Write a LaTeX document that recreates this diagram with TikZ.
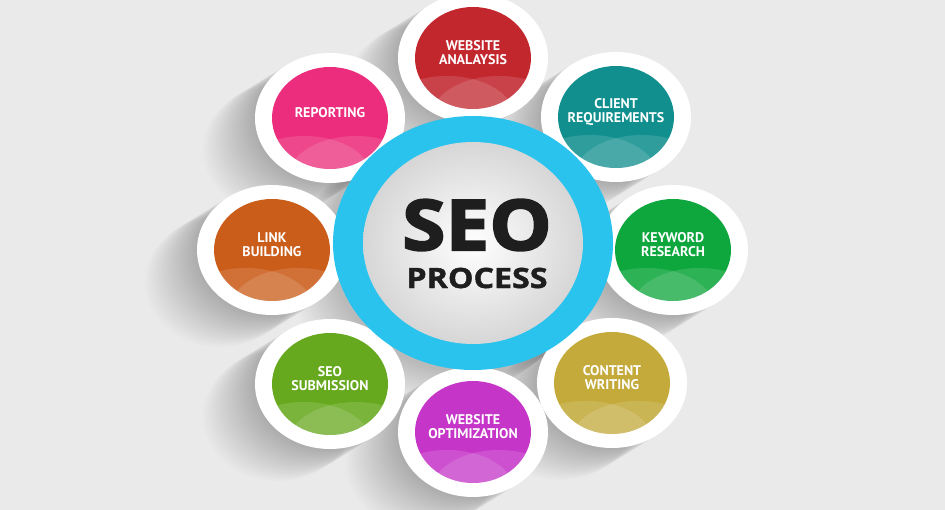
\documentclass[tikz,border=0pt]{standalone}
\usepackage{fontspec}
\setmainfont{Open Sans}
\newfontfamily\lblfont{PT Sans}
\newfontfamily\seofont{Open Sans}[FakeBold=2.8,FakeStretch=1.12]
\newfontfamily\procfont{Open Sans}[FakeBold=1.5,FakeStretch=1.15]
\usetikzlibrary{shapes.geometric}
\definecolor{bgc}{HTML}{EAEAEA}
\definecolor{ringblue}{HTML}{2AC3EE}
\definecolor{cRed}{HTML}{C2272E}
\definecolor{cPink}{HTML}{EC2C7C}
\definecolor{cTeal}{HTML}{108F8E}
\definecolor{cOrange}{HTML}{CB5D1A}
\definecolor{cGreen}{HTML}{0EA73E}
\definecolor{cLime}{HTML}{67A91E}
\definecolor{cMagenta}{HTML}{C536C8}
\definecolor{cOlive}{HTML}{C3AA3B}
\definecolor{seotext}{HTML}{1E1E1E}
\tikzset{
  sat/.style={ellipse, minimum width=116pt, minimum height=102pt, inner sep=0pt},
  lbl/.style={text=white, align=center, font=\lblfont\bfseries\fontsize{14}{14}\selectfont, inner sep=0pt},
  shad/.style={black, opacity=0.012},
}
\begin{document}
\begin{tikzpicture}[x=1pt,y=-1pt]
\useasboundingbox (0,0) rectangle (945,510);
\fill[bgc] (0,0) rectangle (945,510);

% positions
\coordinate (wa) at (473,58);
\coordinate (cr) at (616,117);
\coordinate (kr) at (673,250);
\coordinate (cw) at (612,383);
\coordinate (wo) at (473,432);
\coordinate (ss) at (330,384);
\coordinate (lb) at (272,250);
\coordinate (rp) at (330,118);
\coordinate (c) at (473,243);

% soft shadows of satellites (cast to lower left)
\foreach \n in {wa,cr,kr,cw,wo,ss,lb,rp}{
  \foreach \k in {1,...,20}{
    \fill[shad] ([shift={(-2.6*\k,1.6*\k)}]\n) ellipse [x radius=75pt, y radius=65pt];
  }
}
% shadow of central ring
\foreach \k in {1,...,16}{
  \fill[shad] ([shift={(-2.5*\k,1.8*\k)}]c) ellipse [x radius=142pt, y radius=129pt];
}

% satellites
\foreach \n/\col/\txt in {
  wa/cRed/{WEBSITE\\ANALAYSIS},
  cr/cTeal/{CLIENT\\REQUIREMENTS},
  kr/cGreen/{KEYWORD\\RESEARCH},
  cw/cOlive/{CONTENT\\WRITING},
  wo/cMagenta/{WEBSITE\\OPTIMIZATION},
  ss/cLime/{SEO\\SUBMISSION},
  lb/cOrange/{LINK\\BUILDING},
  rp/cPink/{REPORTING}}{
  \fill[white] (\n) ellipse [x radius=75pt, y radius=65pt];
  \node[sat, fill=\col] (\n-c) at (\n) {};
  \begin{scope}
    \clip (\n) ellipse [x radius=58pt, y radius=51pt];
    \fill[white, opacity=0.13] ([shift={(-26,60)}]\n) ellipse [x radius=68pt, y radius=42pt];
    \fill[white, opacity=0.13] ([shift={(26,60)}]\n) ellipse [x radius=68pt, y radius=42pt];
  \end{scope}
  \node[lbl] (\n-t) at ([shift={(0,-5)}]\n) {\txt};
}

% central ring
\fill[ringblue] (c) ellipse [x radius=140pt, y radius=127pt];
\shade[inner color=white, outer color=black!16] (c) ellipse [x radius=110pt, y radius=101pt];
\node[text=seotext, font=\seofont\bfseries\fontsize{70}{70}\selectfont, inner sep=0pt] (seo) at (477,225) {SEO};
\node[text=seotext, font=\procfont\bfseries\fontsize{28}{28}\selectfont, inner sep=0pt] (proc) at (477,278) {PROCESS};
\end{tikzpicture}
\end{document}
